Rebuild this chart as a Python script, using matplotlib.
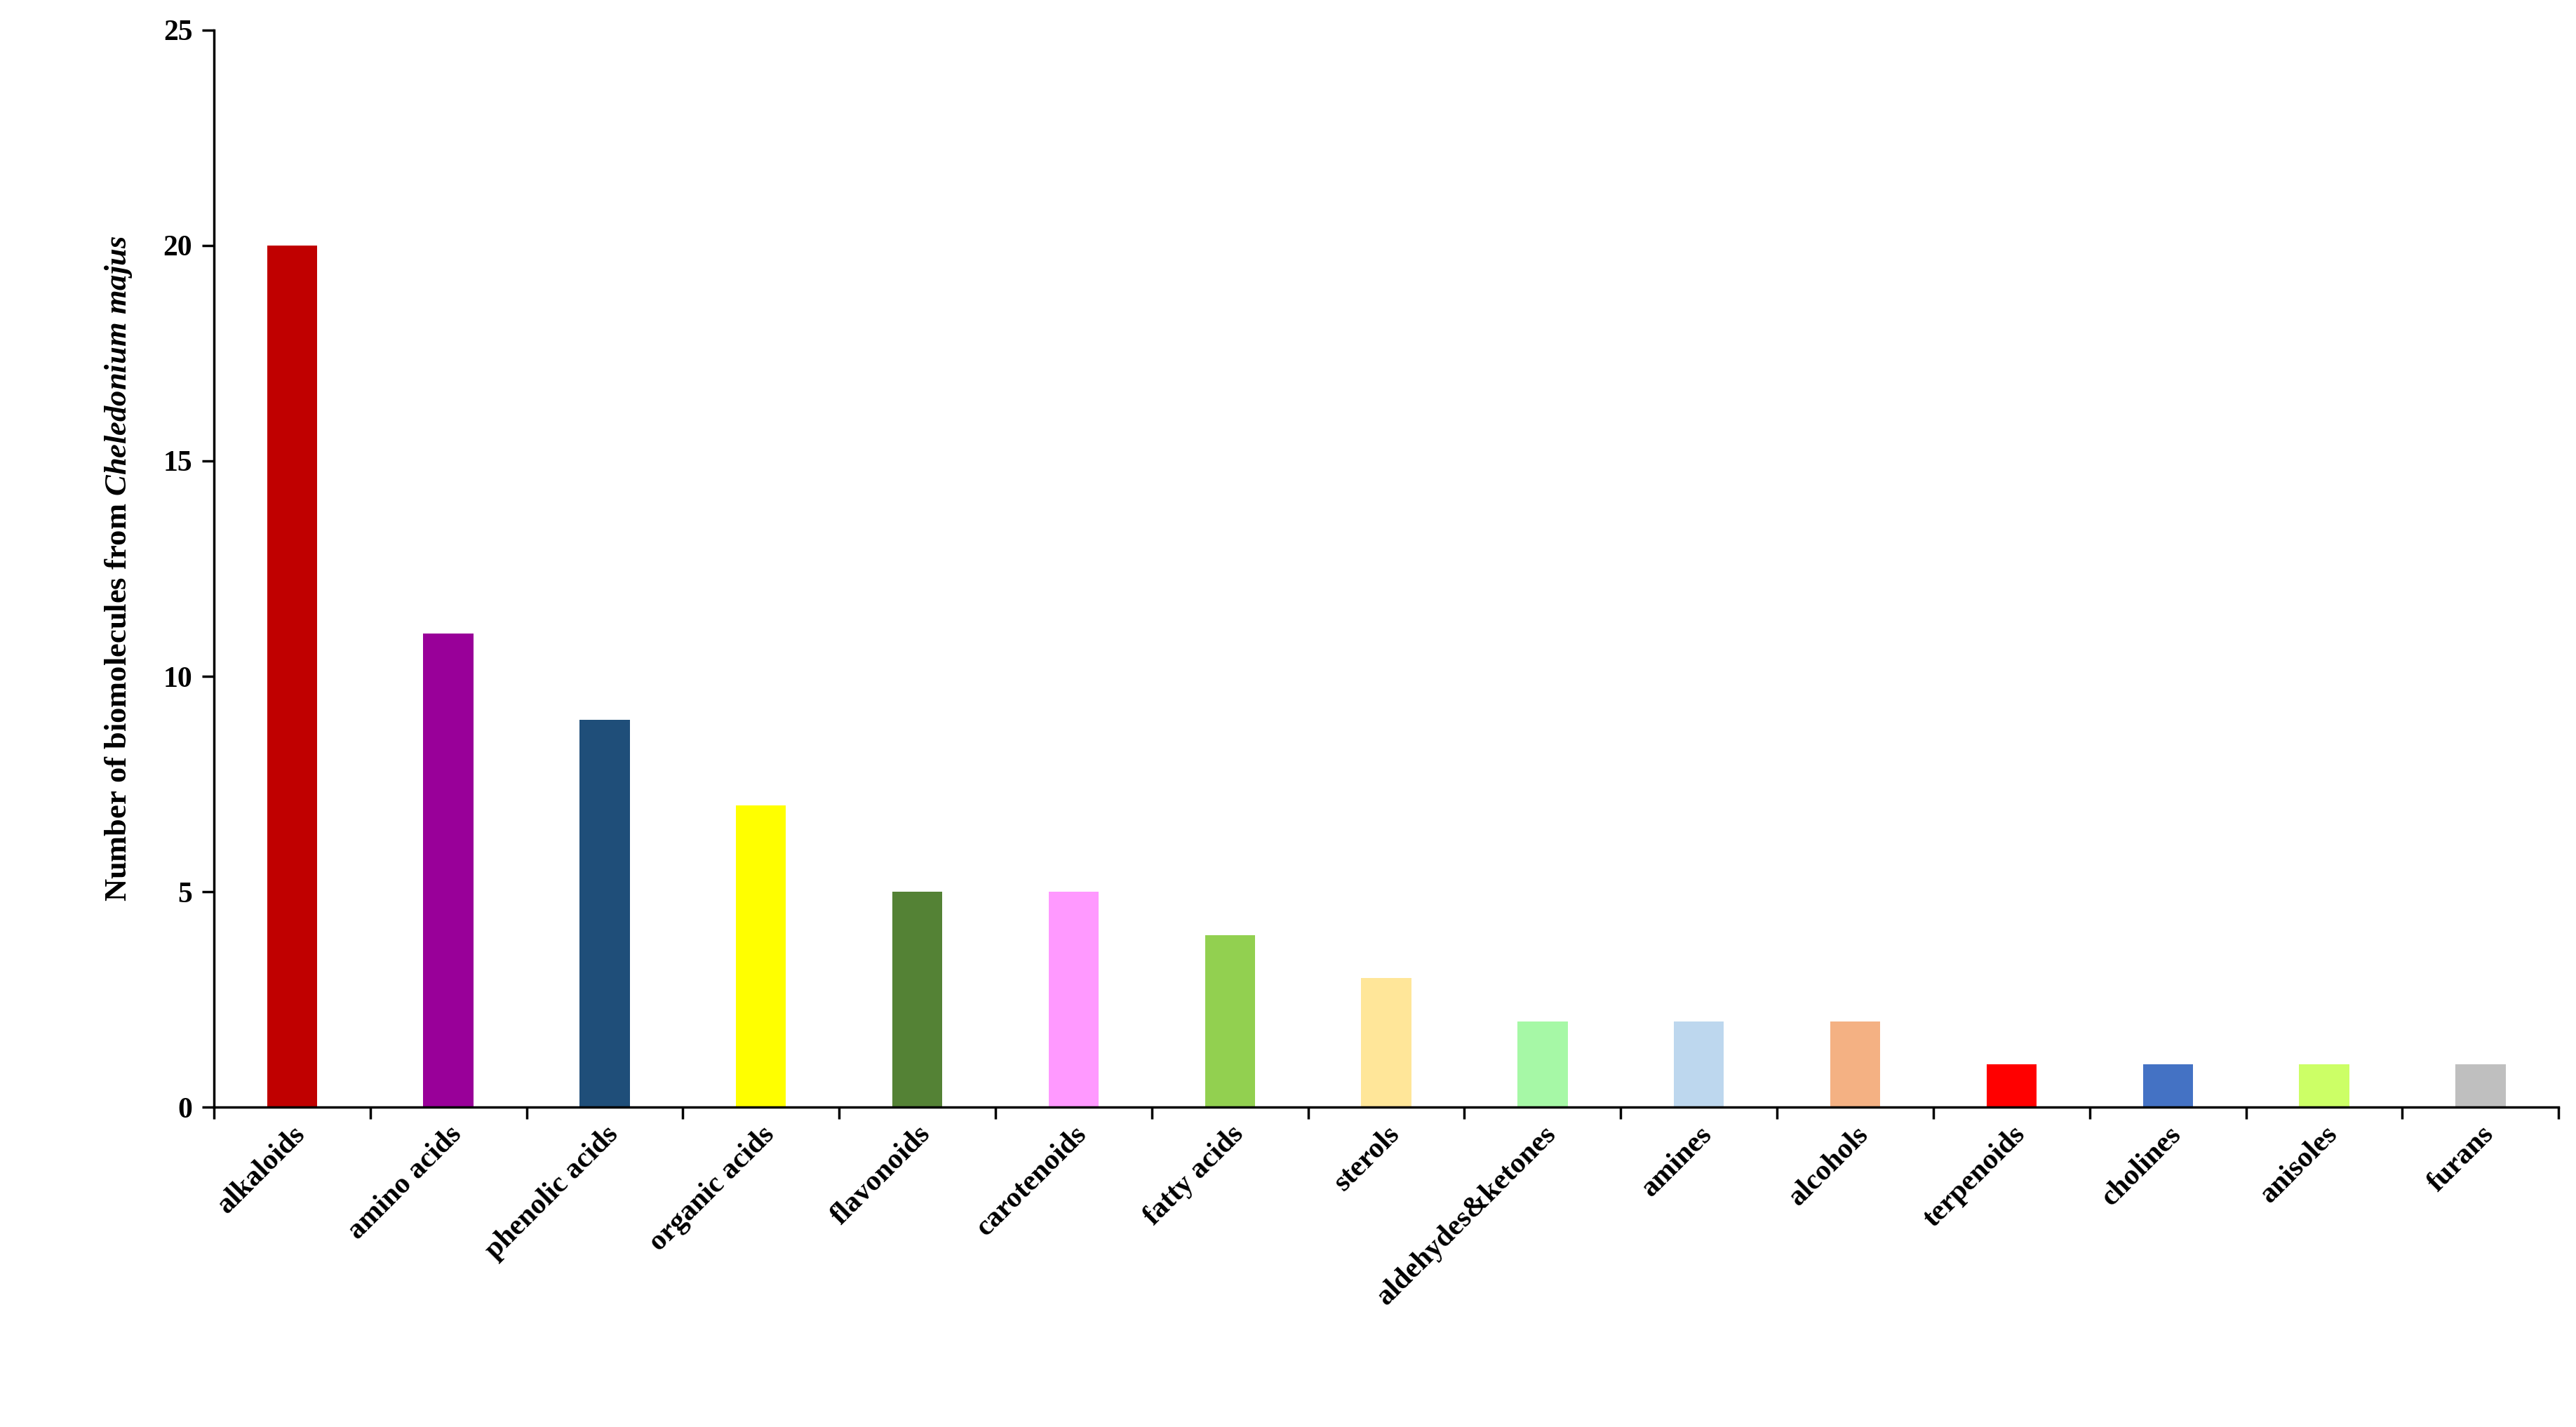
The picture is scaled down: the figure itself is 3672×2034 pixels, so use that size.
import matplotlib
matplotlib.use("Agg")
import matplotlib.pyplot as plt
import numpy as np

categories = ["alkaloids","amino acids","phenolic acids","organic acids","flavonoids",
              "carotenoids","fatty acids","sterols","aldehydes&ketones","amines",
              "alcohols","terpenoids","cholines","anisoles","furans"]
values = [20,11,9,7,5,5,4,3,2,2,2,1,1,1,1]
colors = ["#C00000","#990099","#1F4E79","#FFFF00","#548235","#FF99FF","#92D050","#FFE699",
          "#A6F8A6","#BDD7EE","#F4B183","#FF0000","#4472C4","#CCFF66","#BFBFBF"]

plt.rcParams['font.family'] = ['Liberation Serif', 'DejaVu Serif']
plt.rcParams['font.weight'] = 'bold'
plt.rcParams['mathtext.fontset'] = 'custom'
plt.rcParams['mathtext.it'] = 'Liberation Serif:italic:bold'
plt.rcParams['mathtext.rm'] = 'Liberation Serif:bold'

fig = plt.figure(figsize=(36.73, 20.34), dpi=100)
ax = fig.add_axes([0.083, 0.224, 0.910, 0.755])
x = np.arange(len(categories))
ax.bar(x, values, width=0.32, color=colors)
ax.set_xlim(-0.5, len(categories) - 0.5)
ax.set_ylim(0, 25)
ax.set_yticks([0,5,10,15,20,25])
ax.tick_params(axis='y', labelsize=30, length=12, width=2.5, direction='out', pad=10)
ax.set_xticks(x)
ax.set_xticklabels(categories, rotation=45, ha='right', rotation_mode='anchor', fontsize=30, fontweight='bold')
ax.tick_params(axis='x', which='major', length=0, pad=14)
ax.set_xticks(np.arange(-0.5, len(categories)), minor=True)
ax.tick_params(axis='x', which='minor', length=12, width=2.5, direction='out')
for lab in ax.get_yticklabels():
    lab.set_fontweight('bold')
for s in ['top','right']:
    ax.spines[s].set_visible(False)
for s in ['left','bottom']:
    ax.spines[s].set_linewidth(2.5)
ax.set_ylabel(r"Number of biomolecules from $\mathit{Cheledonium\ majus}$", fontsize=32, fontweight='bold', labelpad=30)
fig.savefig("out.png", dpi=100)
